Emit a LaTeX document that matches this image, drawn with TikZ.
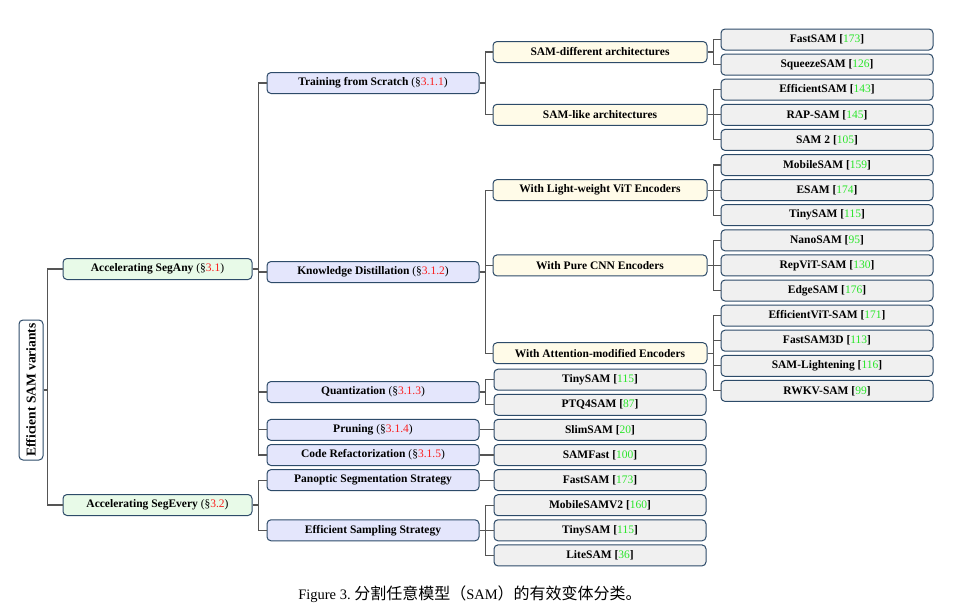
\documentclass[tikz,border=0pt]{standalone}
\usepackage{fontspec}
\setmainfont{Liberation Serif}
\newfontfamily\cjk{Noto Sans CJK SC}
\usepackage{xcolor}
\usepackage{tikz}
\usetikzlibrary{positioning, calc}
\definecolor{samBorder}{RGB}{45, 75, 105}
\definecolor{samLine}{RGB}{85, 85, 85}
\definecolor{samGreen}{RGB}{232, 250, 232}
\definecolor{samBlue}{RGB}{228, 230, 252}
\definecolor{samYellow}{RGB}{255, 251, 232}
\definecolor{samGray}{RGB}{240, 240, 240}
\definecolor{refRed}{RGB}{250, 30, 30}
\definecolor{citeGreen}{RGB}{40, 230, 40}
\newcommand{\samsec}[1]{{\mdseries(\S\textcolor{refRed}{#1})}}
\newcommand{\samcite}[1]{[\textcolor{citeGreen}{\mdseries #1}]}

\begin{document}
\begin{tikzpicture}[
    x=1pt, y=-1pt,
    box/.style={rectangle, rounded corners=4pt, draw=samBorder, line width=1pt, minimum height=21pt, inner sep=1pt, align=center, font=\fontsize{11.5}{13}\selectfont\bfseries},
    lvlone/.style={box, fill=samGreen, minimum width=189pt},
    lvltwo/.style={box, fill=samBlue, minimum width=212pt},
    lvlthree/.style={box, fill=samYellow, minimum width=214pt},
    leaf/.style={box, fill=samGray, minimum width=212pt},
    link/.style={draw=samLine, line width=1.1pt}
]
\useasboundingbox (0,0) rectangle (958,613);

% Root
\node[box, rotate=90, fill=white, minimum width=140pt, minimum height=24pt, font=\fontsize{13.5}{15}\selectfont\bfseries] (root) at (31,390) {Efficient SAM variants};

% Level 1
\node[lvlone] (any) at (157.5,269) {Accelerating SegAny \samsec{3.1}};
\node[lvlone] (every) at (157.5,505) {Accelerating SegEvery \samsec{3.2}};

% Level 2
\node[lvltwo] (train) at (373,83) {Training from Scratch \samsec{3.1.1}};
\node[lvltwo] (kd) at (373,272) {Knowledge Distillation \samsec{3.1.2}};
\node[lvltwo] (quant) at (373,392) {Quantization \samsec{3.1.3}};
\node[lvltwo] (prune) at (373,429.9) {Pruning \samsec{3.1.4}};
\node[lvltwo] (code) at (373,455) {Code Refactorization \samsec{3.1.5}};
\node[lvltwo] (pano) at (373,480.1) {Panoptic Segmentation Strategy};
\node[lvltwo] (samp) at (373,530.3) {Efficient Sampling Strategy};

% Level 3
\node[lvlthree] (diff) at (600,52) {SAM-different architectures};
\node[lvlthree] (like) at (600,114.8) {SAM-like architectures};
\node[lvlthree] (vit) at (600,190.1) {With Light-weight ViT Encoders};
\node[lvlthree] (cnn) at (600,265.4) {With Pure CNN Encoders};
\node[lvlthree] (attn) at (600,353.2) {With Attention-modified Encoders};
\node[leaf] (tinyq) at (600,379.7) {TinySAM \samcite{115}};
\node[leaf] (ptq) at (600,404.8) {PTQ4SAM \samcite{87}};
\node[leaf] (slim) at (600,429.9) {SlimSAM \samcite{20}};
\node[leaf] (samfast) at (600,455) {SAMFast \samcite{100}};
\node[leaf] (fastpano) at (600,480.1) {FastSAM \samcite{173}};
\node[leaf] (mobilev2) at (600,505.2) {MobileSAMV2 \samcite{160}};
\node[leaf] (tinys) at (600,530.3) {TinySAM \samcite{115}};
\node[leaf] (lite) at (600,555.4) {LiteSAM \samcite{36}};

% Level 4
\node[leaf] (fastsam) at (827,39.5) {FastSAM \samcite{173}};
\node[leaf] (squeeze) at (827,64.6) {SqueezeSAM \samcite{126}};
\node[leaf] (effsam) at (827,89.7) {EfficientSAM \samcite{143}};
\node[leaf] (rapsam) at (827,114.8) {RAP-SAM \samcite{145}};
\node[leaf] (samtwo) at (827,139.9) {SAM 2 \samcite{105}};
\node[leaf] (mobile) at (827,165) {MobileSAM \samcite{159}};
\node[leaf] (esam) at (827,190.1) {ESAM \samcite{174}};
\node[leaf] (tinyk) at (827,215.2) {TinySAM \samcite{115}};
\node[leaf] (nano) at (827,240.3) {NanoSAM \samcite{95}};
\node[leaf] (repvit) at (827,265.4) {RepViT-SAM \samcite{130}};
\node[leaf] (edge) at (827,290.5) {EdgeSAM \samcite{176}};
\node[leaf] (effvit) at (827,315.6) {EfficientViT-SAM \samcite{171}};
\node[leaf] (fastthree) at (827,340.7) {FastSAM3D \samcite{113}};
\node[leaf] (lighten) at (827,365.8) {SAM-Lightening \samcite{116}};
\node[leaf] (rwkv) at (827,390.9) {RWKV-SAM \samcite{99}};

% Links
\draw[link] (root.south) -- ++(4pt,0) |- (any.west);
\draw[link] (root.south) -- ++(4pt,0) |- (every.west);
\foreach \p/\c in {any/train, any/kd, any/quant, any/prune, any/code,
    every/pano, every/samp, train/diff, train/like,
    kd/vit, kd/cnn, kd/attn, quant/tinyq, quant/ptq, prune/slim, code/samfast,
    pano/fastpano, samp/mobilev2, samp/tinys, samp/lite,
    diff/fastsam, diff/squeeze, like/effsam, like/rapsam, like/samtwo,
    vit/mobile, vit/esam, vit/tinyk, cnn/nano, cnn/repvit, cnn/edge,
    attn/effvit, attn/fastthree, attn/lighten, attn/rwkv}
    \draw[link] (\p.east) -- ++(6pt,0) |- (\c.west);

% Caption
\node[font=\fontsize{14.5}{17}\selectfont] (caption) at (470,594) {Figure 3.\ {\cjk\fontsize{16}{18}\selectfont 分割任意模型（}SAM{\cjk\fontsize{16}{18}\selectfont ）的有效变体分类。}};

\end{tikzpicture}
\end{document}
